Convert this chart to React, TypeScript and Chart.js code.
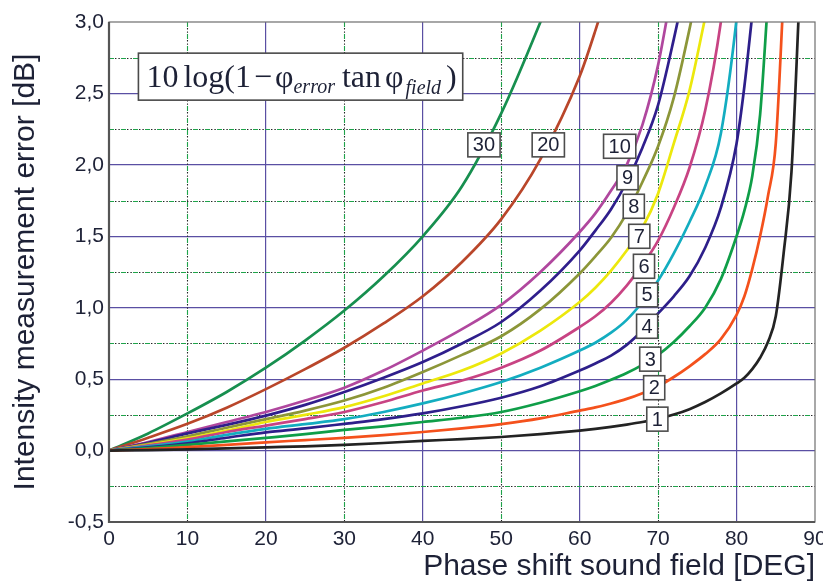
import React, { useEffect, useRef } from "react";
import { Chart, registerables } from "chart.js";

Chart.register(...registerables);

// Phase shift of the sound field (degrees) at which each curve is sampled.
const PHASE = [0, 5, 10, 15, 20, 25, 30, 35, 40, 45, 50, 55, 60, 62, 64, 66, 68, 70, 72, 74, 76, 78, 80, 81, 82, 83, 84, 85, 86, 87, 88];

// Intensity measurement error [dB] for each phase error of the probe (degrees).
const ERR_1 = [0, 0.003, 0.008, 0.015, 0.023, 0.03, 0.04, 0.053, 0.068, 0.08, 0.095, 0.115, 0.14, 0.152, 0.166, 0.182, 0.2, 0.222, 0.252, 0.29, 0.34, 0.4, 0.47, 0.51, 0.57, 0.65, 0.76, 0.94, 1.38, 1.95, 3.15];
const ERR_2 = [0, 0.01, 0.025, 0.04, 0.058, 0.073, 0.089, 0.108, 0.13, 0.155, 0.185, 0.225, 0.28, 0.302, 0.33, 0.362, 0.402, 0.45, 0.515, 0.59, 0.675, 0.78, 0.95, 1.08, 1.27, 1.5, 1.78, 2.15, 3.2];
const ERR_3 = [0, 0.018, 0.04, 0.064, 0.089, 0.115, 0.145, 0.17, 0.2, 0.23, 0.27, 0.335, 0.415, 0.452, 0.495, 0.543, 0.6, 0.67, 0.76, 0.87, 1.0, 1.2, 1.5, 1.68, 1.92, 2.35, 3.15];
const ERR_4 = [0, 0.023, 0.051, 0.09, 0.128, 0.155, 0.187, 0.22, 0.26, 0.31, 0.37, 0.45, 0.56, 0.61, 0.665, 0.74, 0.84, 0.96, 1.08, 1.22, 1.42, 1.7, 2.15, 2.55, 3.05];
const ERR_5 = [0, 0.03, 0.063, 0.11, 0.152, 0.185, 0.22, 0.27, 0.33, 0.4, 0.48, 0.58, 0.7, 0.755, 0.825, 0.915, 1.04, 1.19, 1.38, 1.6, 1.85, 2.22, 3.02, 3.6];
const ERR_6 = [0, 0.036, 0.077, 0.13, 0.175, 0.22, 0.27, 0.34, 0.42, 0.49, 0.58, 0.7, 0.865, 0.94, 1.035, 1.155, 1.3, 1.47, 1.7, 1.98, 2.38, 3.0, 3.9];
const ERR_7 = [0, 0.04, 0.085, 0.14, 0.2, 0.25, 0.304, 0.38, 0.47, 0.56, 0.68, 0.84, 1.04, 1.14, 1.26, 1.4, 1.56, 1.8, 2.15, 2.52, 3.03];
const ERR_8 = [0, 0.048, 0.1, 0.16, 0.22, 0.28, 0.35, 0.44, 0.55, 0.67, 0.8, 0.99, 1.24, 1.36, 1.49, 1.66, 1.88, 2.13, 2.47, 2.95, 3.5];
const ERR_9 = [0, 0.055, 0.12, 0.18, 0.245, 0.32, 0.41, 0.51, 0.62, 0.75, 0.9, 1.12, 1.4, 1.54, 1.69, 1.88, 2.12, 2.42, 2.88, 3.4];
const ERR_10 = [0, 0.06, 0.13, 0.2, 0.27, 0.35, 0.44, 0.56, 0.7, 0.85, 1.02, 1.25, 1.53, 1.66, 1.82, 2.0, 2.28, 2.7, 3.3];
const ERR_20 = [0, 0.09, 0.187, 0.3, 0.43, 0.57, 0.72, 0.89, 1.08, 1.32, 1.62, 2.04, 2.62, 2.94, 3.3];
const ERR_30 = [0, 0.12, 0.26, 0.41, 0.58, 0.77, 0.98, 1.22, 1.5, 1.85, 2.36, 3.0, 3.7];

// Curve tags and where their boxes sit, in axis units.
const TAG_TEXT = ["30", "20", "10", "9", "8", "7", "6", "5", "4", "3", "2", "1"];
const TAG_X = [47.8, 56.0, 65.1, 66.1, 66.9, 67.6, 68.2, 68.6, 68.6, 69.0, 69.5, 69.9];
const TAG_Y = [2.14, 2.14, 2.13, 1.91, 1.71, 1.5, 1.29, 1.09, 0.87, 0.64, 0.44, 0.22];

// Dash-dot helper lines between the labelled grid lines.
const MINOR_X = [10, 30, 50, 70];
const MINOR_Y = [-0.25, 0.25, 0.75, 1.25, 1.75, 2.25, 2.75];

// Top-left corner of the formula box, in axis units.
const FORMULA_AT = [3.75, 2.782];

const CURVES = [
  { name: "1", data: ERR_1, color: "#232323" },
  { name: "2", data: ERR_2, color: "#f4511c" },
  { name: "3", data: ERR_3, color: "#0f9e48" },
  { name: "4", data: ERR_4, color: "#2d1f8a" },
  { name: "5", data: ERR_5, color: "#13adc0" },
  { name: "6", data: ERR_6, color: "#c84383" },
  { name: "7", data: ERR_7, color: "#ece80c" },
  { name: "8", data: ERR_8, color: "#8c9638" },
  { name: "9", data: ERR_9, color: "#2f1e8c" },
  { name: "10", data: ERR_10, color: "#b0479e" },
  { name: "20", data: ERR_20, color: "#b9462a" },
  { name: "30", data: ERR_30, color: "#178f4f" },
];

const MAJOR = "#5a4fa3";
const INK = "#1d2136";
const SANS = "'Liberation Sans', Arial, Helvetica, sans-serif";
const SERIF = "'Liberation Serif', 'Times New Roman', serif";

const minorGrid = {
  id: "minorGrid",
  beforeDatasetsDraw(chart: any) {
    const { ctx, chartArea: a, scales } = chart;
    const sx = scales.x;
    const sy = scales.y;
    const stroke = (x1: number, y1: number, x2: number, y2: number) => {
      ctx.save();
      ctx.lineWidth = 1.1;
      ctx.strokeStyle = "#1fa34a";
      ctx.setLineDash([5, 7]);
      ctx.beginPath();
      ctx.moveTo(x1, y1);
      ctx.lineTo(x2, y2);
      ctx.stroke();
      ctx.strokeStyle = "#222";
      ctx.setLineDash([1.4, 2, 1.4, 7.2]);
      ctx.lineDashOffset = -6;
      ctx.beginPath();
      ctx.moveTo(x1, y1);
      ctx.lineTo(x2, y2);
      ctx.stroke();
      ctx.restore();
    };
    MINOR_X.forEach((v) => {
      const px = Math.round(sx.getPixelForValue(v)) + 0.5;
      stroke(px, a.top, px, a.bottom);
    });
    MINOR_Y.forEach((v) => {
      const py = Math.round(sy.getPixelForValue(v)) + 0.5;
      stroke(a.left, py, a.right, py);
    });
  },
};

const frameAndTags = {
  id: "frameAndTags",
  afterDatasetsDraw(chart: any) {
    const { ctx, chartArea: a, scales } = chart;
    const sx = scales.x;
    const sy = scales.y;
    ctx.save();

    // plot frame
    ctx.strokeStyle = "#6e6e6e";
    ctx.lineWidth = 1.2;
    ctx.strokeRect(a.left, a.top, a.right - a.left, a.bottom - a.top);
    ctx.strokeStyle = "#555";
    ctx.lineWidth = 2.2;
    ctx.beginPath();
    ctx.moveTo(a.left, a.top);
    ctx.lineTo(a.left, a.bottom);
    ctx.lineTo(a.right, a.bottom);
    ctx.stroke();

    // curve tags
    ctx.font = `20px ${SANS}`;
    ctx.textAlign = "center";
    ctx.textBaseline = "middle";
    TAG_TEXT.forEach((t, i) => {
      const cx = sx.getPixelForValue(TAG_X[i]);
      const cy = sy.getPixelForValue(TAG_Y[i]);
      const w = ctx.measureText(t).width + 10;
      const h = 24;
      ctx.fillStyle = "#ffffff";
      ctx.fillRect(cx - w / 2, cy - h / 2, w, h);
      ctx.strokeStyle = "#4d4d4d";
      ctx.lineWidth = 1.6;
      ctx.strokeRect(cx - w / 2, cy - h / 2, w, h);
      ctx.fillStyle = INK;
      ctx.fillText(t, cx, cy + 1);
    });

    // formula box
    const bx = sx.getPixelForValue(FORMULA_AT[0]);
    const by = sy.getPixelForValue(FORMULA_AT[1]);
    const big = `32px ${SERIF}`;
    const small = `italic 20px ${SERIF}`;
    const parts = [
      { t: "10", f: big, dy: 0, gap: 5 },
      { t: "log(1", f: big, dy: 0, gap: 3 },
      { t: "\u2212", f: big, dy: 0, gap: 3 },
      { t: "\u03c6", f: big, dy: 0, gap: 0 },
      { t: "error", f: small, dy: 6.5, gap: 7 },
      { t: "tan", f: big, dy: 0, gap: 4 },
      { t: "\u03c6", f: big, dy: 0, gap: 2 },
      { t: "field", f: small, dy: 7, gap: 5 },
      { t: ")", f: big, dy: 0, gap: 0 },
    ];
    let total = 0;
    parts.forEach((p) => {
      ctx.font = p.f;
      total += ctx.measureText(p.t).width + p.gap;
    });
    const padL = 8;
    const padR = 6;
    const bw = total + padL + padR;
    const bh = 47;
    ctx.fillStyle = "#ffffff";
    ctx.fillRect(bx, by, bw, bh);
    ctx.strokeStyle = "#4a4a4a";
    ctx.lineWidth = 1.6;
    ctx.strokeRect(bx, by, bw, bh);
    ctx.fillStyle = INK;
    ctx.textAlign = "left";
    ctx.textBaseline = "alphabetic";
    let cur = bx + padL;
    const base = by + 33.5;
    parts.forEach((p) => {
      ctx.font = p.f;
      ctx.fillText(p.t, cur, base + p.dy);
      cur += ctx.measureText(p.t).width + p.gap;
    });

    ctx.restore();
  },
};

export default function App() {
  const canvasRef = useRef<HTMLCanvasElement | null>(null);

  useEffect(() => {
    const canvas = canvasRef.current;
    if (!canvas) return;

    const datasets = CURVES.map((c) => ({
      label: c.name,
      data: c.data.map((v, i) => ({ x: PHASE[i], y: v })),
      borderColor: c.color,
      backgroundColor: c.color,
      borderWidth: 2.7,
      pointRadius: 0,
      fill: false,
      cubicInterpolationMode: "monotone" as const,
      clip: 0,
    }));

    const chart = new Chart(canvas, {
      type: "line",
      data: { datasets },
      options: {
        animation: false,
        responsive: false,
        maintainAspectRatio: false,
        layout: { padding: { left: 0, right: 8, top: 22, bottom: 0 } },
        plugins: {
          legend: { display: false },
          tooltip: { enabled: false },
        },
        scales: {
          x: {
            type: "linear",
            min: 0,
            max: 90,
            ticks: {
              stepSize: 10,
              color: INK,
              font: { family: SANS, size: 21 },
              padding: 5,
              maxRotation: 0,
              autoSkip: false,
            },
            grid: {
              drawTicks: false,
              lineWidth: 1.2,
              color: (c: any) => {
                const v = c.tick ? c.tick.value : 0;
                return v > 0 && v < 90 && v % 20 === 0 ? MAJOR : "rgba(0,0,0,0)";
              },
            },
            border: { display: false },
            title: {
              display: true,
              text: "Phase shift sound field [DEG]",
              align: "end",
              color: INK,
              font: { family: SANS, size: 30 },
              padding: { top: 0, bottom: 0 },
            },
            afterFit: (s: any) => {
              s.height = 63;
              s.paddingLeft = 0;
              s.paddingRight = 0;
            },
          },
          y: {
            type: "linear",
            min: -0.5,
            max: 3,
            ticks: {
              stepSize: 0.5,
              color: INK,
              font: { family: SANS, size: 21 },
              padding: 5,
              callback: (v: any) => Number(v).toFixed(1).replace(".", ","),
            },
            grid: {
              drawTicks: false,
              lineWidth: 1.2,
              color: (c: any) => {
                const v = c.tick ? c.tick.value : 0;
                return v > -0.5 && v < 3 ? MAJOR : "rgba(0,0,0,0)";
              },
            },
            border: { display: false },
            title: {
              display: true,
              text: "Intensity measurement error [dB]",
              color: INK,
              font: { family: SANS, size: 30 },
              padding: { top: 8, bottom: 0 },
            },
            afterFit: (s: any) => {
              s.width = 109;
              s.paddingTop = 0;
              s.paddingBottom = 0;
            },
          },
        },
      },
      plugins: [minorGrid, frameAndTags],
    });

    return () => chart.destroy();
  }, []);

  return (
    <div style={{ position: "fixed", left: 0, top: 0, width: 823, height: 585, background: "#ffffff" }}>
      <canvas ref={canvasRef} width={823} height={585} style={{ display: "block", width: 823, height: 585 }} />
    </div>
  );
}
